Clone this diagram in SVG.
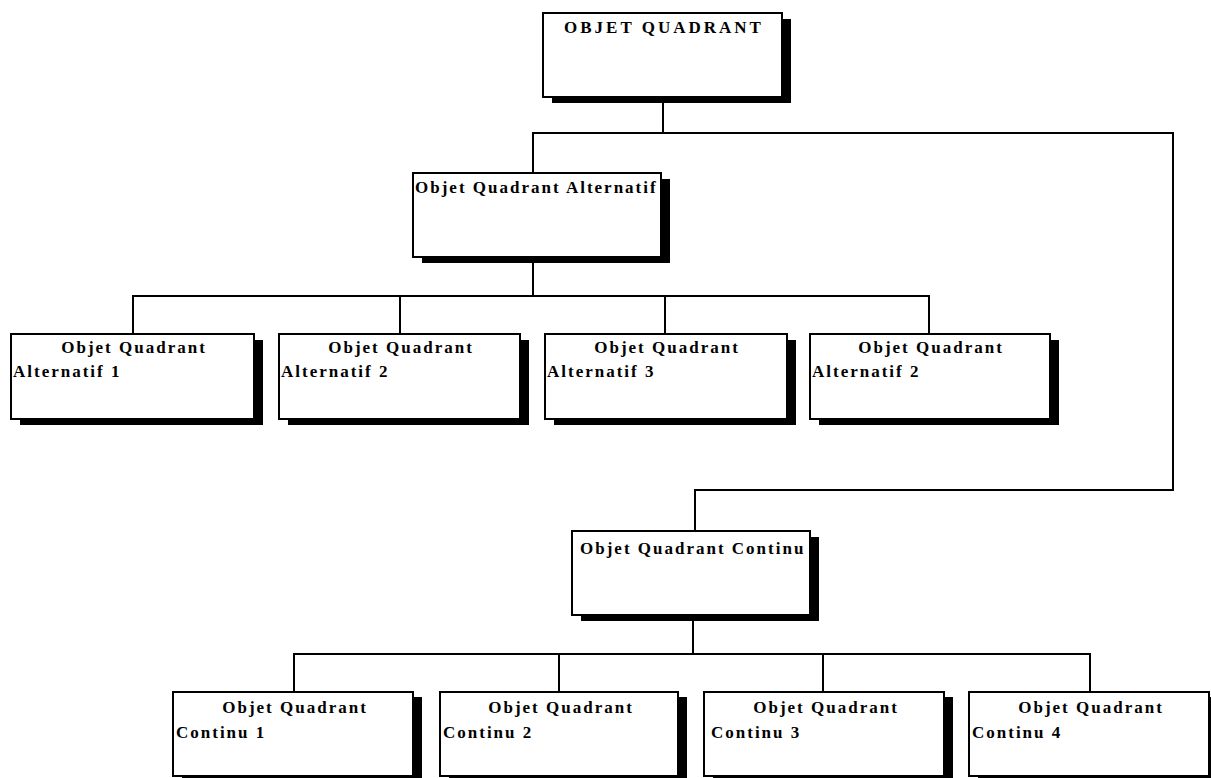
<svg xmlns="http://www.w3.org/2000/svg" width="1211" height="778" viewBox="0 0 1211 778">
<style>
.bg{fill:#fff}
.box{fill:#fff;stroke:#000;stroke-width:2}
.sh{fill:#000}
.ln{fill:none;stroke:#000;stroke-width:2}
text{font-family:"Liberation Serif","Times New Roman",serif;font-weight:bold;font-size:17px;fill:#000;letter-spacing:2px}
.c{text-anchor:middle}
.top{letter-spacing:3px}
</style>
<rect class="bg" x="0" y="0" width="1211" height="778"/>
<g id="connectors">
<polyline class="ln" points="663,97 663,133"/>
<polyline class="ln" points="533,173 533,133 1173,133 1173,490 695,490 695,531"/>
<polyline class="ln" points="533,257 533,296"/>
<polyline class="ln" points="133,334 133,296 929,296 929,334"/>
<polyline class="ln" points="400,296 400,334"/>
<polyline class="ln" points="665,296 665,334"/>
<polyline class="ln" points="693,615 693,654"/>
<polyline class="ln" points="294,692 294,654 1090,654 1090,692"/>
<polyline class="ln" points="559,654 559,692"/>
<polyline class="ln" points="823,654 823,692"/>
</g>
<g id="objet-quadrant">
<rect class="sh" x="552" y="19" width="239" height="84"/>
<rect class="box" x="543" y="13" width="239" height="84"/>
<text class="c top" x="664" y="33">OBJET QUADRANT</text>
</g>
<g id="alternatif">
<rect class="sh" x="422" y="179" width="248" height="84"/>
<rect class="box" x="413" y="173" width="248" height="84"/>
<text x="415" y="193">Objet Quadrant Alternatif</text>
</g>
<g id="alternatif-1">
<rect class="sh" x="20" y="340" width="243" height="85"/>
<rect class="box" x="11" y="334" width="243" height="85"/>
<text class="c" x="134" y="353">Objet Quadrant</text>
<text x="13" y="377">Alternatif 1</text>
</g>
<g id="alternatif-2">
<rect class="sh" x="288" y="340" width="241" height="85"/>
<rect class="box" x="279" y="334" width="241" height="85"/>
<text class="c" x="401" y="353">Objet Quadrant</text>
<text x="281" y="377">Alternatif 2</text>
</g>
<g id="alternatif-3">
<rect class="sh" x="554" y="340" width="242" height="85"/>
<rect class="box" x="545" y="334" width="242" height="85"/>
<text class="c" x="667" y="353">Objet Quadrant</text>
<text x="547" y="377">Alternatif 3</text>
</g>
<g id="alternatif-4">
<rect class="sh" x="819" y="340" width="240" height="85"/>
<rect class="box" x="810" y="334" width="240" height="85"/>
<text class="c" x="931" y="353">Objet Quadrant</text>
<text x="812" y="377">Alternatif 2</text>
</g>
<g id="continu">
<rect class="sh" x="581" y="537" width="238" height="84"/>
<rect class="box" x="572" y="531" width="238" height="84"/>
<text x="580" y="554">Objet Quadrant Continu</text>
</g>
<g id="continu-1">
<rect class="sh" x="182" y="697" width="240" height="84"/>
<rect class="box" x="173" y="692" width="240" height="84"/>
<text class="c" x="295" y="713">Objet Quadrant</text>
<text x="176" y="738">Continu 1</text>
</g>
<g id="continu-2">
<rect class="sh" x="449" y="697" width="238" height="84"/>
<rect class="box" x="440" y="692" width="238" height="84"/>
<text class="c" x="561" y="713">Objet Quadrant</text>
<text x="443" y="738">Continu 2</text>
</g>
<g id="continu-3">
<rect class="sh" x="713" y="697" width="240" height="84"/>
<rect class="box" x="704" y="692" width="240" height="84"/>
<text class="c" x="826" y="713">Objet Quadrant</text>
<text x="711" y="738">Continu 3</text>
</g>
<g id="continu-4">
<rect class="sh" x="978" y="697" width="240" height="84"/>
<rect class="box" x="969" y="692" width="240" height="84"/>
<text class="c" x="1091" y="713">Objet Quadrant</text>
<text x="972" y="738">Continu 4</text>
</g>
</svg>
